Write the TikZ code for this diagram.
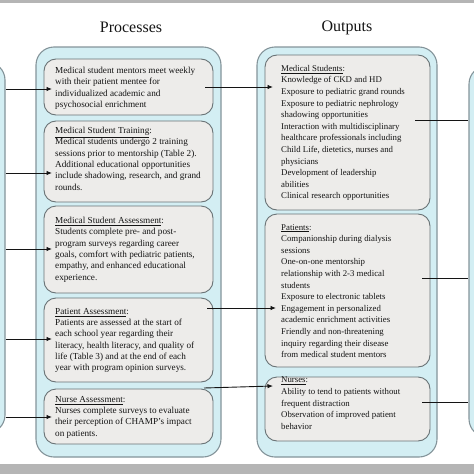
\documentclass[tikz,border=0pt]{standalone}
\usepackage{fontspec}
\setmainfont{Liberation Serif}
\usetikzlibrary{arrows.meta,calc}
\definecolor{panelfill}{HTML}{D3EEF3}
\definecolor{panelline}{HTML}{84949A}
\definecolor{boxfill}{HTML}{EDECEA}
\definecolor{boxline}{HTML}{6A7376}
\definecolor{barfill}{HTML}{B5B5B5}
\definecolor{ink}{HTML}{141414}
\begin{document}
\begin{tikzpicture}[x=1pt,y=-1pt,
 panel/.style={draw=panelline, fill=panelfill, line width=1.1pt, rounded corners=18pt, inner sep=0pt},
 ibox/.style={draw=boxline, fill=boxfill, line width=0.9pt, rounded corners=12pt, inner sep=0pt},
 txt/.style={anchor=north west, align=left, inner sep=0pt, font=\fontsize{9.2}{11.3}\selectfont, text=ink},
 otxt/.style={txt, font=\fontsize{8.8}{11.6}\selectfont},
 head/.style={font=\fontsize{16}{19}\selectfont, text=ink, inner sep=0pt},
 conn/.style={draw=ink, line width=0.9pt, -{Latex[length=5.5pt,width=4.5pt]}},
 plainline/.style={draw=ink, line width=0.9pt}]
\useasboundingbox (0,0) rectangle (474,474);
\fill[barfill] (0,0) rectangle (474,3);
\fill[barfill] (0,464) rectangle (474,474);

% side panels
\node[panel, minimum width=25pt, minimum height=371pt] (L) at (-7.5,247.5) {};
\node[panel, minimum width=26pt, minimum height=371pt] (R) at (482,251.5) {};

% headings
\node[head] (hp) at (131,27) {Processes};
\node[head] (ho) at (347,28) {Outputs};

% Processes column
\node[panel, minimum width=185pt, minimum height=410pt] (P) at (128.5,252) {};
\node[ibox, minimum width=169pt, minimum height=56pt] (b1) at (128.5,87) {};
\node[ibox, minimum width=169pt, minimum height=81pt] (b2) at (128.5,161.5) {};
\node[ibox, minimum width=169pt, minimum height=87pt] (b3) at (128.5,249.5) {};
\node[ibox, minimum width=169pt, minimum height=84pt] (b4) at (128.5,340) {};
\node[ibox, minimum width=169pt, minimum height=55pt] (b5) at (128.5,416.5) {};

\node[txt] (t1) at (55,67) {Medical student mentors meet weekly\\with their patient mentee for\\individualized academic and\\psychosocial enrichment};
\node[txt] (t2) at (55,127) {\underline{Medical Student Training}:\\Medical students undergo 2 training\\sessions prior to mentorship (Table 2).\\Additional educational opportunities\\include shadowing, research, and grand\\rounds.};
\node[txt] (t3) at (55,217) {\underline{Medical Student Assessment}:\\Students complete pre- and post-\\program surveys regarding career\\goals, comfort with pediatric patients,\\empathy, and enhanced educational\\experience.};
\node[txt] (t4) at (55,308) {\underline{Patient Assessment}:\\Patients are assessed at the start of\\each school year regarding their\\literacy, health literacy, and quality of\\life (Table 3) and at the end of each\\year with program opinion surveys.};
\node[txt] (t5) at (55,396) {\underline{Nurse Assessment}:\\Nurses complete surveys to evaluate\\their perception of CHAMP's impact\\on patients.};

% Outputs column
\node[panel, minimum width=180pt, minimum height=410pt] (O) at (347,252) {};
\node[ibox, minimum width=165pt, minimum height=155pt] (o1) at (347.5,132.5) {};
\node[ibox, minimum width=165pt, minimum height=153pt] (o2) at (347.5,290.5) {};
\node[ibox, minimum width=165pt, minimum height=64pt] (o3) at (347.5,409) {};

\node[otxt] (u1) at (281,65) {\underline{Medical Students}:\\Knowledge of CKD and HD\\Exposure to pediatric grand rounds\\Exposure to pediatric nephrology\\shadowing opportunities\\Interaction with multidisciplinary\\healthcare professionals including\\Child Life, dietetics, nurses and\\physicians\\Development of leadership\\abilities\\Clinical research opportunities};
\node[otxt] (u2) at (281,224) {\underline{Patients}:\\Companionship during dialysis\\sessions\\One-on-one mentorship\\relationship with 2-3 medical\\students\\Exposure to electronic tablets\\Engagement in personalized\\academic enrichment activities\\Friendly and non-threatening\\inquiry regarding their disease\\from medical student mentors};
\node[otxt] (u3) at (281,377) {\underline{Nurses}:\\Ability to tend to patients without\\frequent distraction\\Observation of improved patient\\behavior};

% connector end points
\coordinate (a1) at (52,89);
\coordinate (a2) at (52,173);
\coordinate (a3) at (52,249);
\coordinate (a4) at (52,339);
\coordinate (a5) at (52,417);
\coordinate (m1s) at (205,87);
\coordinate (m1e) at (273,87);
\coordinate (m2s) at (207,308);
\coordinate (m2e) at (276,308);
\coordinate (m3s) at (204,388);
\coordinate (m3e) at (273,386);
\coordinate (r1) at (415,120);
\coordinate (r2) at (422,278);
\coordinate (r3) at (422,402);

\draw[conn] (L.east |- a1) -- (a1);
\draw[conn] (L.east |- a2) -- (a2);
\draw[conn] (L.east |- a3) -- (a3);
\draw[conn] (L.east |- a4) -- (a4);
\draw[conn] (L.east |- a5) -- (a5);
\draw[conn] (m1s) -- (m1e);
\draw[conn] (m2s) -- (m2e);
\draw[conn] (m3s) -- (m3e);
\draw[plainline] (r1) -- (R.west |- r1);
\draw[plainline] (r2) -- (R.west |- r2);
\draw[plainline] (r3) -- (R.west |- r3);
\end{tikzpicture}
\end{document}
